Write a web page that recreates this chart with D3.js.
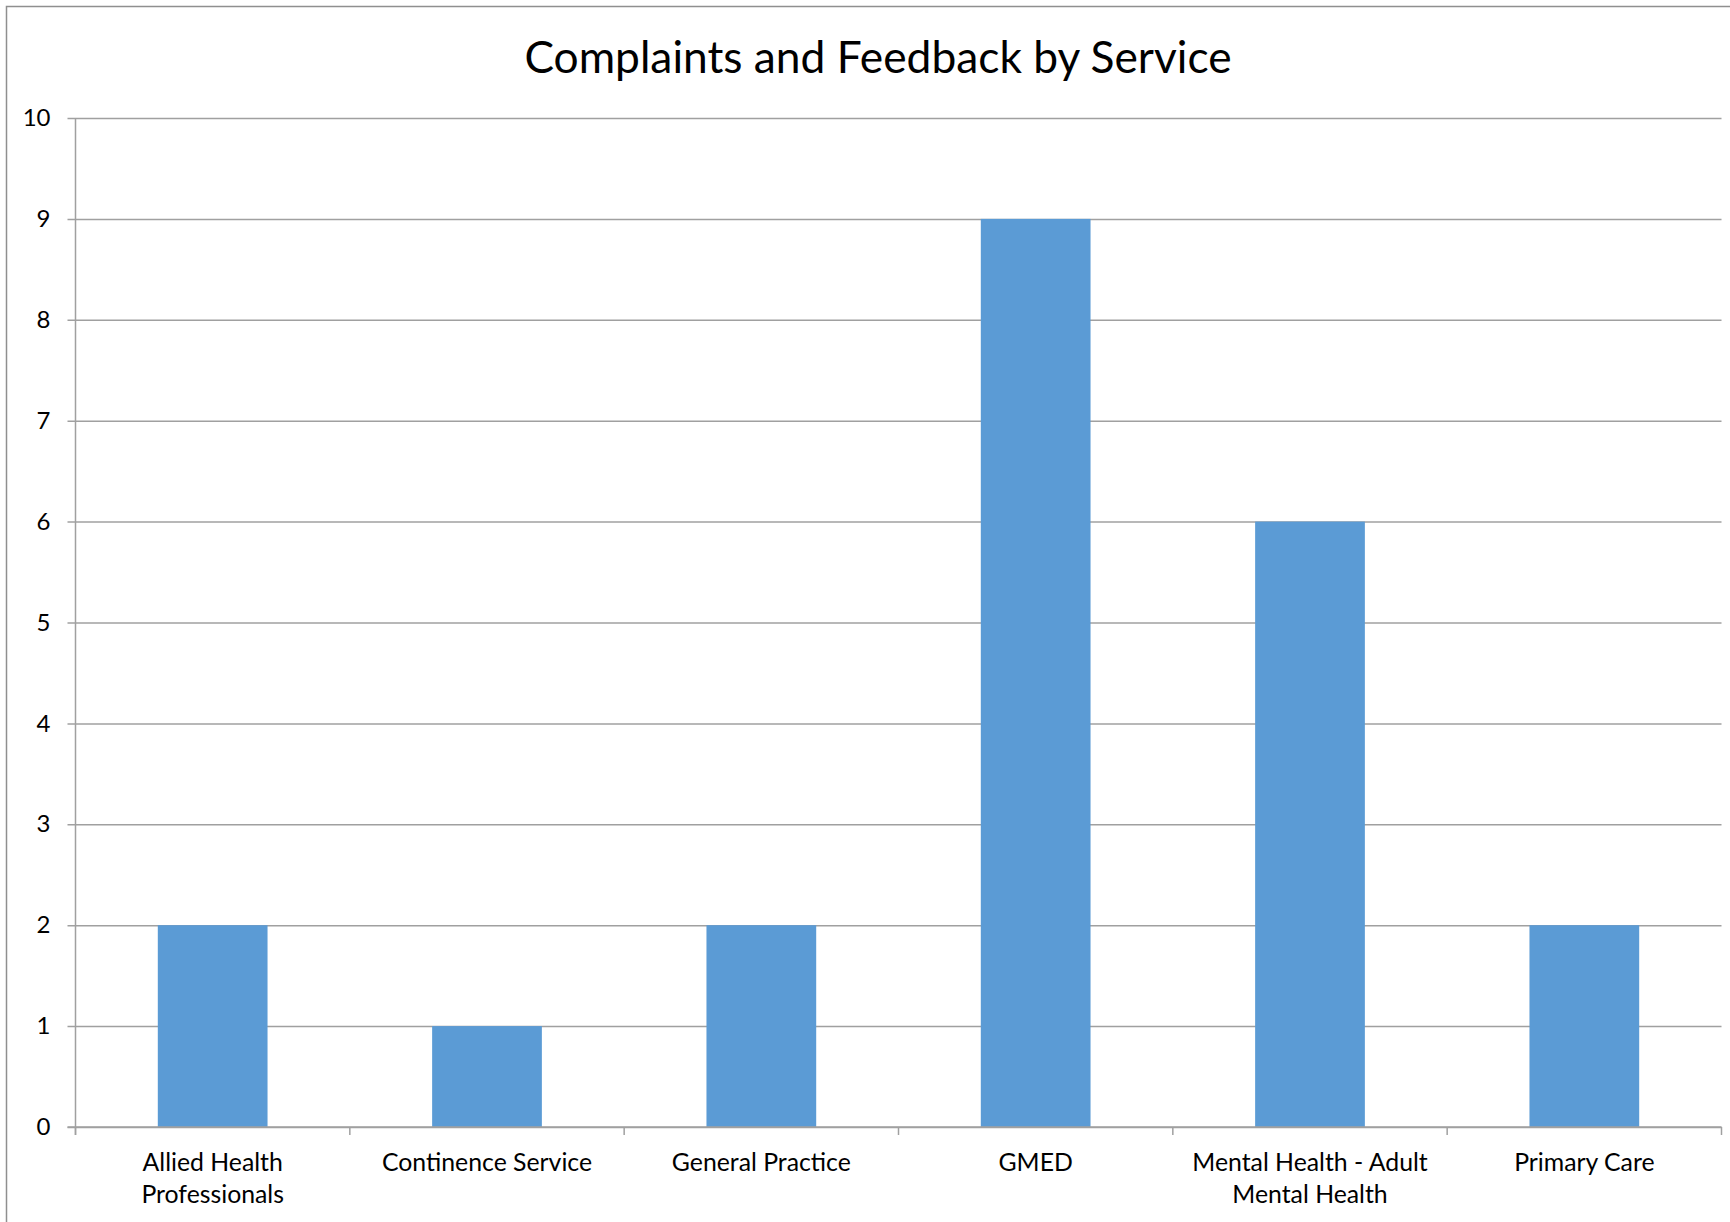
<!DOCTYPE html>
<html>
<head>
<meta charset="utf-8">
<script src="https://cdn.jsdelivr.net/npm/d3@7"></script>
<style>
  html, body { margin: 0; padding: 0; background: #fff; }
  svg { display: block; }
  text { font-family: Lato, "Open Sans", sans-serif; fill: #000; }
</style>
</head>
<body>
<svg id="chart" width="1730" height="1222"></svg>
<script>
// Service categories and their complaint/feedback counts
const categories = [
  "Allied Health Professionals",
  "Continence Service",
  "General Practice",
  "GMED",
  "Mental Health - Adult Mental Health",
  "Primary Care"
];
const counts = [2, 1, 2, 9, 6, 2];
// How each category label wraps under the axis
const categoryLines = [
  ["Allied Health", "Professionals"],
  ["Continence Service"],
  ["General Practice"],
  ["GMED"],
  ["Mental Health - Adult", "Mental Health"],
  ["Primary Care"]
];
const yTicks = [0, 1, 2, 3, 4, 5, 6, 7, 8, 9, 10];
const title = "Complaints and Feedback by Service";

const svg = d3.select("#chart");
const W = 1730, H = 1222;
const margin = { left: 75.5, right: 8.5, top: 118, bottom: 95 };
const plotW = W - margin.left - margin.right;
const plotH = H - margin.top - margin.bottom;

// Chart area border
svg.append("rect")
  .attr("x", 6.5).attr("y", 6.5)
  .attr("width", W + 10).attr("height", H + 10)
  .attr("fill", "#fff").attr("stroke", "#8f8f8f").attr("stroke-width", 1.5);

svg.append("text")
  .attr("x", 878).attr("y", 73)
  .attr("text-anchor", "middle")
  .style("font-size", "44.3px")
  .text(title);

const g = svg.append("g").attr("transform", `translate(${margin.left},${margin.top})`);

const x = d3.scaleBand().domain(categories).range([0, plotW]).paddingInner(0.6).paddingOuter(0.3);
const y = d3.scaleLinear().domain([0, 10]).range([plotH, 0]);

// Horizontal gridlines with left tick labels
const yAxis = d3.axisLeft(y).tickValues(yTicks).tickSize(-plotW - 8).tickSizeOuter(0).tickPadding(17);
const yg = g.append("g").attr("transform", "translate(-8,0)").call(yAxis);
yg.select(".domain").remove();
yg.selectAll(".tick line").attr("x1", 0).attr("x2", plotW + 8)
  .attr("stroke", "#a0a0a0").attr("stroke-width", 1.5);
yg.selectAll(".tick text").attr("x", -17).style("font-size", "24px").attr("fill", "#000");

// Bars
g.selectAll("rect.bar")
  .data(categories)
  .join("rect")
  .attr("class", "bar")
  .attr("x", d => x(d))
  .attr("width", x.bandwidth())
  .attr("y", (d, i) => y(counts[i]))
  .attr("height", (d, i) => plotH - y(counts[i]))
  .attr("fill", "#5b9bd5");

// Vertical axis line
g.append("line")
  .attr("x1", 0).attr("x2", 0).attr("y1", 0).attr("y2", plotH + 8)
  .attr("stroke", "#a0a0a0").attr("stroke-width", 1.5);

// Category axis: baseline, boundary ticks and wrapped labels
g.append("line")
  .attr("x1", -8).attr("x2", plotW).attr("y1", plotH).attr("y2", plotH)
  .attr("stroke", "#a0a0a0").attr("stroke-width", 1.5);
const boundaries = d3.range(categories.length + 1).map(i => i * plotW / categories.length);
g.selectAll("line.xtick")
  .data(boundaries)
  .join("line")
  .attr("class", "xtick")
  .attr("x1", d => d).attr("x2", d => d)
  .attr("y1", plotH).attr("y2", plotH + 8)
  .attr("stroke", "#a0a0a0").attr("stroke-width", 1.5);

const labels = g.selectAll("text.xlabel")
  .data(categories)
  .join("text")
  .attr("class", "xlabel")
  .attr("text-anchor", "middle")
  .attr("transform", d => `translate(${x(d) + x.bandwidth() / 2},${plotH + 44})`)
  .style("font-size", "24.8px");
labels.selectAll("tspan")
  .data((d, i) => categoryLines[i])
  .join("tspan")
  .attr("x", 0)
  .attr("dy", (d, i) => i === 0 ? 0 : 32)
  .text(d => d);
</script>
</body>
</html>
